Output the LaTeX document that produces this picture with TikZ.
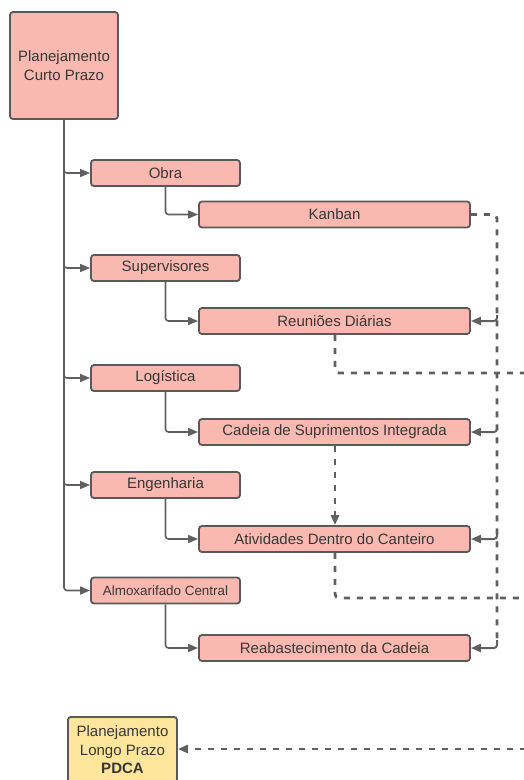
\documentclass[tikz,border=0pt]{standalone}
\usepackage{fontspec}
\setmainfont{Liberation Sans}
\usetikzlibrary{arrows.meta}
\definecolor{boxpink}{HTML}{F9B8B0}
\definecolor{boxyellow}{HTML}{FDE59B}
\definecolor{edgegray}{HTML}{595959}
\definecolor{linegray}{HTML}{606060}
\definecolor{txtgray}{HTML}{383838}
\tikzset{
  card/.style={draw=edgegray, line width=1.8pt, rounded corners=3pt, fill=boxpink,
    text=txtgray, align=center, inner sep=0pt,
    font=\fontsize{15}{19}\selectfont},
  lvlone/.style={card, minimum width=149pt, minimum height=26pt},
  lvltwo/.style={card, minimum width=271pt, minimum height=26pt},
  link/.style={draw=linegray, line width=1.6pt, rounded corners=3pt,
    -{Triangle[length=10pt,width=8pt]}},
  dashlink/.style={draw=linegray, line width=2.8pt, dash pattern=on 6pt off 7pt,
    rounded corners=4pt},
  tiplink/.style={draw=linegray, line width=2pt, rounded corners=3pt,
    -{Triangle[length=10pt,width=8pt]}},
}
\begin{document}
\begin{tikzpicture}[x=1pt,y=-1pt]
\useasboundingbox (0,0) rectangle (524,780);

% root of the short-term plan
\node[card, minimum width=108pt, minimum height=107pt] (curto) at (64,65.5)
  {Planejamento\\Curto Prazo};

% first level
\node[lvlone] (obra) at (165.5,173) {Obra};
\node[lvlone] (sup)  at (165.5,268) {Supervisores};
\node[lvlone] (log)  at (165.5,378) {Logística};
\node[lvlone] (eng)  at (165.5,485) {Engenharia};
\node[lvlone, font=\fontsize{13.4}{16}\selectfont] (alm) at (165.5,590.5) {Almoxarifado Central};

% second level
\node[lvltwo] (kanban) at (334.5,214.5) {Kanban};
\node[lvltwo] (reun)   at (334.5,321)   {Reuniões Diárias};
\node[lvltwo] (cadeia) at (334.5,432)   {Cadeia de Suprimentos Integrada};
\node[lvltwo] (ativ)   at (334.5,539)   {Atividades Dentro do Canteiro};
\node[lvltwo] (reab)   at (334.5,648)   {Reabastecimento da Cadeia};

% long-term plan
\node[card, fill=boxyellow, minimum width=109pt, minimum height=66pt,
      font=\fontsize{15}{18.5}\selectfont, anchor=north] (pdca) at (122.5,716)
  {Planejamento\\Longo Prazo\\\textbf{PDCA}};

% trunk and branches
\draw[link] (curto.south) |- (obra.west);
\draw[link] (curto.south) |- (sup.west);
\draw[link] (curto.south) |- (log.west);
\draw[link] (curto.south) |- (eng.west);
\draw[link] (curto.south) |- (alm.west);

\draw[link] (obra.south) |- (kanban.west);
\draw[link] (sup.south)  |- (reun.west);
\draw[link] (log.south)  |- (cadeia.west);
\draw[link] (eng.south)  |- (ativ.west);
\draw[link] (alm.south)  |- (reab.west);

% feedback bus on the right (canvas y points up, so a positive yshift lifts)
\coordinate (busA) at (497,321);
\coordinate (busB) at (497,432);
\coordinate (busC) at (497,539);
\coordinate (busD) at (497,648);
\draw[dashlink] (kanban.east) -| ([yshift=8pt]busD);
\draw[tiplink] ([yshift=6pt]busA) |- (reun.east);
\draw[tiplink] ([yshift=6pt]busB) |- (cadeia.east);
\draw[tiplink] ([yshift=6pt]busC) |- (ativ.east);
\draw[tiplink] ([yshift=8pt]busD) |- (reab.east);

% outgoing dashed lines
\coordinate (outA) at (526,373);
\coordinate (outB) at (526,598);
\coordinate (inP)  at (526,749);
\draw[dashlink] ([xshift=0.5pt]reun.south) |- (outA);
\draw[dashlink] ([xshift=0.5pt]ativ.south) |- (outB);
\draw[dashlink, -{Triangle[length=10pt,width=8pt]}]
  ([xshift=0.5pt]cadeia.south) -- ([xshift=0.5pt]ativ.north);
\draw[dashlink, -{Triangle[length=10pt,width=8pt]}] (inP) -- (pdca.east |- inP);
\end{tikzpicture}
\end{document}
